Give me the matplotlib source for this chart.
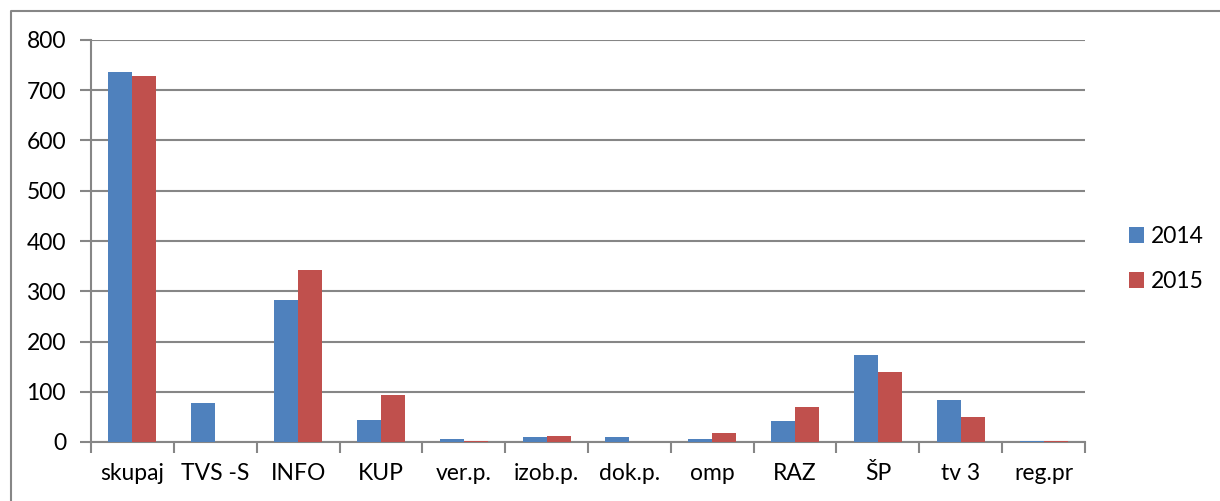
import numpy as np
import matplotlib.pyplot as plt
from matplotlib.lines import Line2D

categories = ["skupaj", "TVS -S", "INFO", "KUP", "ver.p.", "izob.p.", "dok.p.",
              "omp", "RAZ", "ŠP", "tv 3", "reg.pr"]
values_2014 = [737, 78, 283, 44, 6, 9, 9, 6, 41, 173, 83, 2]
values_2015 = [728, 0, 342, 94, 2, 11, 0, 17, 69, 139, 50, 2]

blue = "#4F81BD"
red = "#C0504D"
grid_col = "#868686"

plt.rcParams['font.family'] = ['Lato', 'DejaVu Sans']

fig = plt.figure(figsize=(12.2, 5.01), dpi=100)
ax = fig.add_axes([91 / 1220, 1 - 442 / 501, (1085 - 91) / 1220, (442 - 40) / 501])

# outer chart border (only left and top edges are inside the picture)
bx, by = 10.5 / 1220, 1 - 10.5 / 501
fig.lines.append(Line2D([bx, bx, 1.0], [0.0, by, by], transform=fig.transFigure,
                        color=grid_col, linewidth=1.5))

x = np.arange(len(categories))
w = 0.29
ax.bar(x - w / 2, values_2014, w, color=blue, label="2014", zorder=3)
ax.bar(x + w / 2, values_2015, w, color=red, label="2015", zorder=3)

ax.set_xlim(-0.5, len(categories) - 0.5)
ax.set_ylim(0, 800)
ax.set_yticks(range(0, 801, 100))
ax.yaxis.grid(True, color=grid_col, linewidth=1.5, zorder=0)

ax.set_xticks(x)
ax.set_xticklabels(categories)
ax.set_xticks(np.arange(-0.5, len(categories), 1), minor=True)
ax.tick_params(axis='x', which='major', length=0, labelsize=16.5, pad=15)
ax.tick_params(axis='x', which='minor', length=8, width=1.5, color=grid_col)
ax.tick_params(axis='y', length=8, width=1.5, color=grid_col, labelsize=16.5, pad=10)

for s in ["top", "right"]:
    ax.spines[s].set_visible(False)
for s in ["left", "bottom"]:
    ax.spines[s].set_color(grid_col)
    ax.spines[s].set_linewidth(1.5)

ax.legend(loc="center left", bbox_to_anchor=((1129 - 91) / 994, (442 - 259) / 402),
          frameon=False, borderpad=0, borderaxespad=0,
          fontsize=16.5, handlelength=0.65, handleheight=0.65, handletextpad=0.3,
          labelspacing=1.05)

fig.savefig("out.png", dpi=100)
